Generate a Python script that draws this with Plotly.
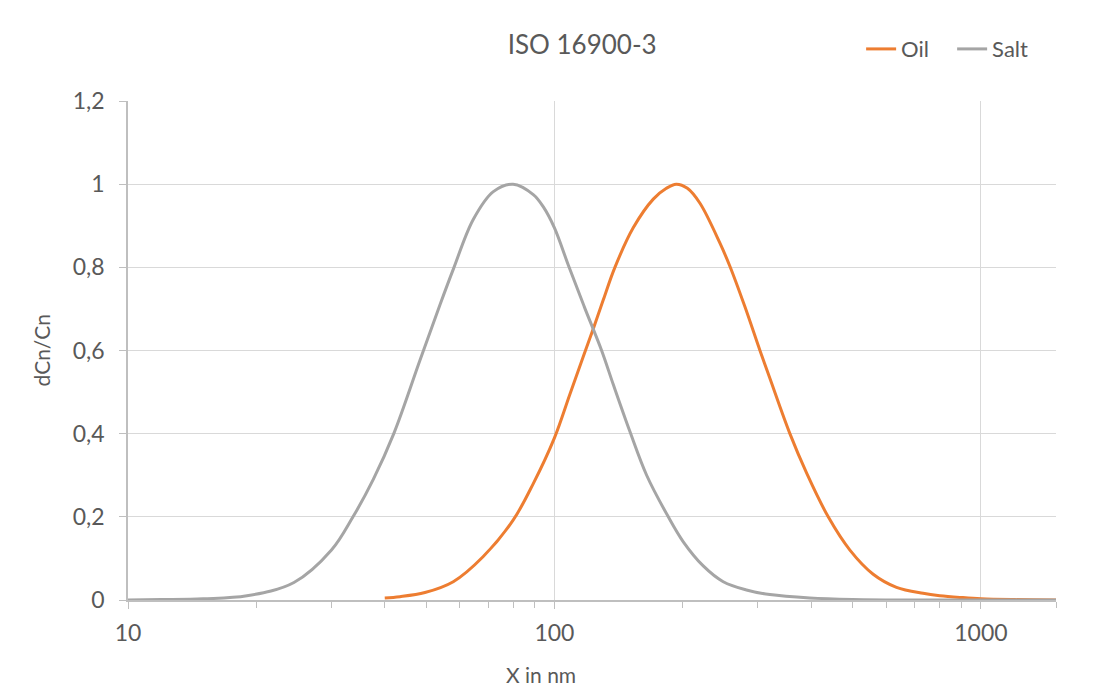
import plotly.graph_objects as go

# Data
salt_x = [10, 12, 15, 19, 24.5, 30, 33.7, 37.6, 42, 48.4, 53.9, 57.9, 64.5, 71.9,
          80, 89.2, 94.1, 100, 107.8, 117.5, 129, 137.4, 150.3, 164.5, 184.9, 200.5,
          223.3, 248.8, 282, 320, 397, 500, 700, 1000, 1500]
salt_y = [0, 0.001, 0.003, 0.01, 0.042, 0.12, 0.2, 0.29, 0.4, 0.577, 0.71, 0.795,
          0.915, 0.982, 1.0, 0.975, 0.946, 0.895, 0.805, 0.705, 0.60, 0.518,
          0.405, 0.30, 0.20, 0.14, 0.082, 0.044, 0.024, 0.013, 0.005, 0.0015, 0, 0, 0]

oil_x = [40, 43.4, 49.7, 57.9, 68, 80, 89.2, 100, 108.7, 116.8, 123.3, 130, 138.6,
         153, 170.5, 183, 193, 205, 219.4, 244.4, 258, 279.7, 303.3, 320, 356.5,
         390.3, 438.5, 493, 559, 634, 732, 801, 900, 1000, 1200, 1500]
oil_y = [0.005, 0.008, 0.018, 0.044, 0.104, 0.192, 0.28, 0.39, 0.495, 0.585, 0.652,
         0.72, 0.80, 0.895, 0.964, 0.99, 1.0, 0.99, 0.954, 0.858, 0.802, 0.705, 0.60,
         0.533, 0.40, 0.305, 0.20, 0.12, 0.062, 0.0305, 0.016, 0.0104, 0.006, 0.003,
         0.001, 0]

x_major = [10, 100, 1000]
x_major_text = ["10", "100", "1000"]
x_minor = [20, 30, 40, 50, 60, 70, 80, 90, 200, 300, 400, 500, 600, 700, 800, 900, 1500]
y_ticks = [0, 0.2, 0.4, 0.6, 0.8, 1.0, 1.2]

FONT = "Lato"
TXT = "#595959"
AXIS = "#bfbfbf"
GRID = "#d9d9d9"

fig = go.Figure()
fig.add_trace(go.Scatter(x=oil_x, y=oil_y, mode="lines", name="Oil",
                         line=dict(color="#ED7D31", width=3, shape="spline", smoothing=1.0)))
fig.add_trace(go.Scatter(x=salt_x, y=salt_y, mode="lines", name="Salt",
                         line=dict(color="#A5A5A5", width=3, shape="spline", smoothing=1.0)))

fig.update_layout(
    width=1102, height=692,
    margin=dict(l=120, r=54, t=93, b=100),
    paper_bgcolor="white", plot_bgcolor="white",
    separators=",.",
    font=dict(family=FONT, color=TXT, size=20),
    title=dict(text="ISO 16900-3", x=0.521, xanchor="center", y=0.9465, yanchor="middle",
               font=dict(family=FONT, size=26, color=TXT)),
    legend=dict(orientation="h", x=0.79, xanchor="left", y=1.104, yanchor="middle",
                font=dict(family=FONT, size=22, color=TXT), bgcolor="rgba(0,0,0,0)",
                itemwidth=30, entrywidth=46, entrywidthmode="pixels"),
    showlegend=True,
)

fig.update_xaxes(
    type="log", range=[1, 3.1761],
    tickmode="array", tickvals=x_major, ticktext=x_major_text,
    ticks="outside", ticklen=7, tickcolor=AXIS, tickwidth=1,
    ticklabelstandoff=5,
    showline=True, linecolor=AXIS, linewidth=1.5,
    showgrid=True, gridcolor=GRID, gridwidth=1,
    tickfont=dict(family=FONT, size=23, color=TXT),
    minor=dict(tickmode="array", tickvals=x_minor, ticks="outside", ticklen=6,
               tickcolor=AXIS, tickwidth=1, showgrid=False),
    zeroline=False,
)
fig.update_yaxes(
    range=[0, 1.2], tickmode="array", tickvals=y_ticks,
    ticks="outside", ticklen=7, tickcolor=AXIS, tickwidth=1,
    ticklabelstandoff=10,
    showline=True, linecolor=AXIS, linewidth=1.5,
    showgrid=True, gridcolor=GRID, gridwidth=1,
    tickfont=dict(family=FONT, size=23, color=TXT),
    zeroline=False,
)

fig.add_annotation(text="X in nm", xref="paper", yref="paper", x=0.445, y=-0.150,
                   xanchor="center", yanchor="middle", showarrow=False,
                   font=dict(family=FONT, size=21, color=TXT))
fig.add_annotation(text="dCn/Cn", xref="paper", yref="paper", x=-0.0928, y=0.5,
                   xanchor="center", yanchor="middle", showarrow=False, textangle=-90,
                   font=dict(family=FONT, size=21, color=TXT))

fig.write_html("out.html")
